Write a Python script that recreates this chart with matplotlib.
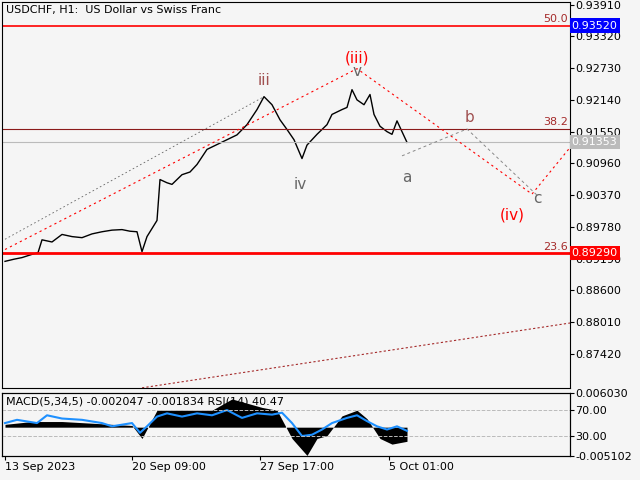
import numpy as np
import matplotlib.pyplot as plt

# USDCHF H1 price path (bar position, price)
bar = [3, 12, 20, 30, 36, 40, 50, 60, 70, 80, 90, 100, 110, 120, 128, 135, 140, 145, 150, 155, 158, 165, 170, 180,
       188, 195, 205, 215, 225, 235, 245, 255, 262, 270, 278, 285, 292, 300, 305, 310, 315, 325, 330, 340, 345,
       350, 355, 362, 368, 372, 378, 385, 390, 395, 400, 405]
price = [0.8914, 0.8918, 0.8921, 0.8927, 0.8930, 0.8954, 0.8950, 0.8964, 0.8960, 0.8958, 0.8965, 0.8969, 0.8972,
         0.8973, 0.8970, 0.8969, 0.8932, 0.8960, 0.8975, 0.8990, 0.9066, 0.9060, 0.9057, 0.9075, 0.9080, 0.9094,
         0.9122, 0.9131, 0.9140, 0.9149, 0.9168, 0.9196, 0.9220, 0.9205, 0.9177, 0.9159, 0.9140, 0.9105, 0.9130,
         0.9140, 0.9150, 0.9168, 0.9187, 0.9196, 0.9200, 0.9233, 0.9214, 0.9205, 0.9224, 0.9187, 0.9165, 0.9155,
         0.9150, 0.9175, 0.9155, 0.9135]

# indicator panel
ind_x = [3, 15, 35, 45, 60, 80, 100, 110, 130, 138, 145, 155, 165, 180, 195, 210, 225, 240, 255, 270, 280, 290,
         300, 310, 320, 330, 345, 355, 365, 375, 385, 395, 405]
rsi = [50, 55, 50, 62, 57, 55, 50, 45, 50, 35, 45, 60, 65, 60, 65, 62, 70, 58, 65, 63, 66, 50, 30, 32, 40, 50,
       58, 62, 53, 45, 40, 45, 38]
macd_x = [3, 30, 60, 100, 130, 140, 155, 180, 210, 230, 260, 275, 290, 305, 315, 325, 340, 355, 365, 378, 390, 405]
macd = [0.0005, 0.001, 0.001, 0.0006, 0.0003, -0.002, 0.003, 0.003, 0.003, 0.005, 0.0035, 0.003, -0.002, -0.005,
        -0.002, -0.0015, 0.002, 0.003, 0.0015, -0.002, -0.003, -0.0025]

tick_pos = [3, 130, 258, 387]
tick_lab = ['13 Sep 2023', '20 Sep 09:00', '27 Sep 17:00', '5 Oct 01:00']
price_ticks = [0.93910, 0.93320, 0.92730, 0.92140, 0.91550, 0.90960, 0.90370, 0.89780, 0.89190, 0.88600,
               0.88010, 0.87420]

bg = '#f5f5f5'
fig = plt.figure(figsize=(6.4, 4.8), dpi=100, facecolor=bg)
ax = fig.add_axes([2 / 640, 0.192, 568 / 640, 0.804], facecolor=bg)
ax.set_xlim(0, 568)
ax.set_ylim(0.8679, 0.9396)

ax.plot(bar, price, color='black', lw=1)
ax.axhline(0.8929, color='red', lw=2)
ax.axhline(0.9352, color='red', lw=1.2)
ax.axhline(0.9160, color='#8b1a1a', lw=0.8)
ax.axhline(0.91353, color='#bbbbbb', lw=0.8)
for lvl, t in [(0.9352, '50.0'), (0.9160, '38.2'), (0.8929, '23.6')]:
    ax.text(566, lvl + 0.0003, t, color='#a52a2a', ha='right', va='bottom', fontsize=8)

# wave lines
ax.plot([3, 355, 530, 570], [0.8936, 0.9272, 0.9039, 0.9130], color='red', ls=(0, (2, 3)), lw=0.8)
ax.plot([3, 262], [0.8955, 0.9220], color='#666666', ls=(0, (2, 3)), lw=0.6)
ax.plot([400, 465, 535], [0.9110, 0.9160, 0.9037], color='#888888', ls=(0, (3, 3)), lw=0.7)
ax.plot([140, 570], [0.8679, 0.8800], color='#a52a2a', ls=(0, (2, 2)), lw=0.8)

labels = [(355, 0.9292, '(iii)', 'red'), (262, 0.9250, 'iii', '#a05050'), (298, 0.9056, 'iv', '#666666'),
          (355, 0.9266, 'v', '#666666'), (405, 0.9070, 'a', '#666666'), (467, 0.9182, 'b', '#a05050'),
          (535, 0.9030, 'c', '#666666'), (510, 0.9001, '(iv)', 'red')]
for x, y, t, c in labels:
    ax.text(x, y, t, color=c, ha='center', va='center', fontsize=11)

ax.yaxis.tick_right()
ax.set_yticks(price_ticks)
ax.set_yticklabels(['%.5f' % p for p in price_ticks], fontsize=8)
ax.set_xticks([])
ax.tick_params(axis='y', length=3, pad=1)
for v, c, tc in [(0.9352, 'blue', 'white'), (0.91353, '#bbbbbb', 'white'), (0.8929, 'red', 'white')]:
    ax.text(1.003, v, '%.5f' % v, transform=ax.get_yaxis_transform(), color=tc, fontsize=8, va='center',
            bbox=dict(facecolor=c, edgecolor='none', pad=1.5))
ax.text(4, 0.9390, 'USDCHF, H1:  US Dollar vs Swiss Franc', fontsize=8, va='top')

# indicator
ax2 = fig.add_axes([2 / 640, 0.05, 568 / 640, 0.131], facecolor=bg)
ax2.set_xlim(0, 568)
ax2.set_ylim(-0.005102, 0.006030)
ax2.fill_between(macd_x, 0, macd, color='black', lw=0)
ax3 = ax2.twinx()
ax2.yaxis.tick_right()
ax2.set_yticks([0.006030, -0.005102])
ax2.set_yticklabels(['0.006030', '-0.005102'], fontsize=8)
ax2.set_xticks(tick_pos)
ax2.set_xticklabels(tick_lab, fontsize=8, ha='left')
ax2.tick_params(length=3, pad=1)
ax3.set_ylim(-0.8, 96.2)
ax3.plot(ind_x, rsi, color='#1e90ff', lw=1.5)
ax3.axhline(70, color='#bbbbbb', ls='--', lw=0.7)
ax3.axhline(30, color='#bbbbbb', ls='--', lw=0.7)
ax3.set_yticks([70, 30])
ax3.set_yticklabels(['70.00', '30.00'], fontsize=8)
ax3.tick_params(length=3, pad=1)
ax2.text(4, 0.0055, 'MACD(5,34,5) -0.002047 -0.001834 RSI(14) 40.47', fontsize=8, va='top')

fig.savefig('out.png', dpi=100, facecolor=bg)
